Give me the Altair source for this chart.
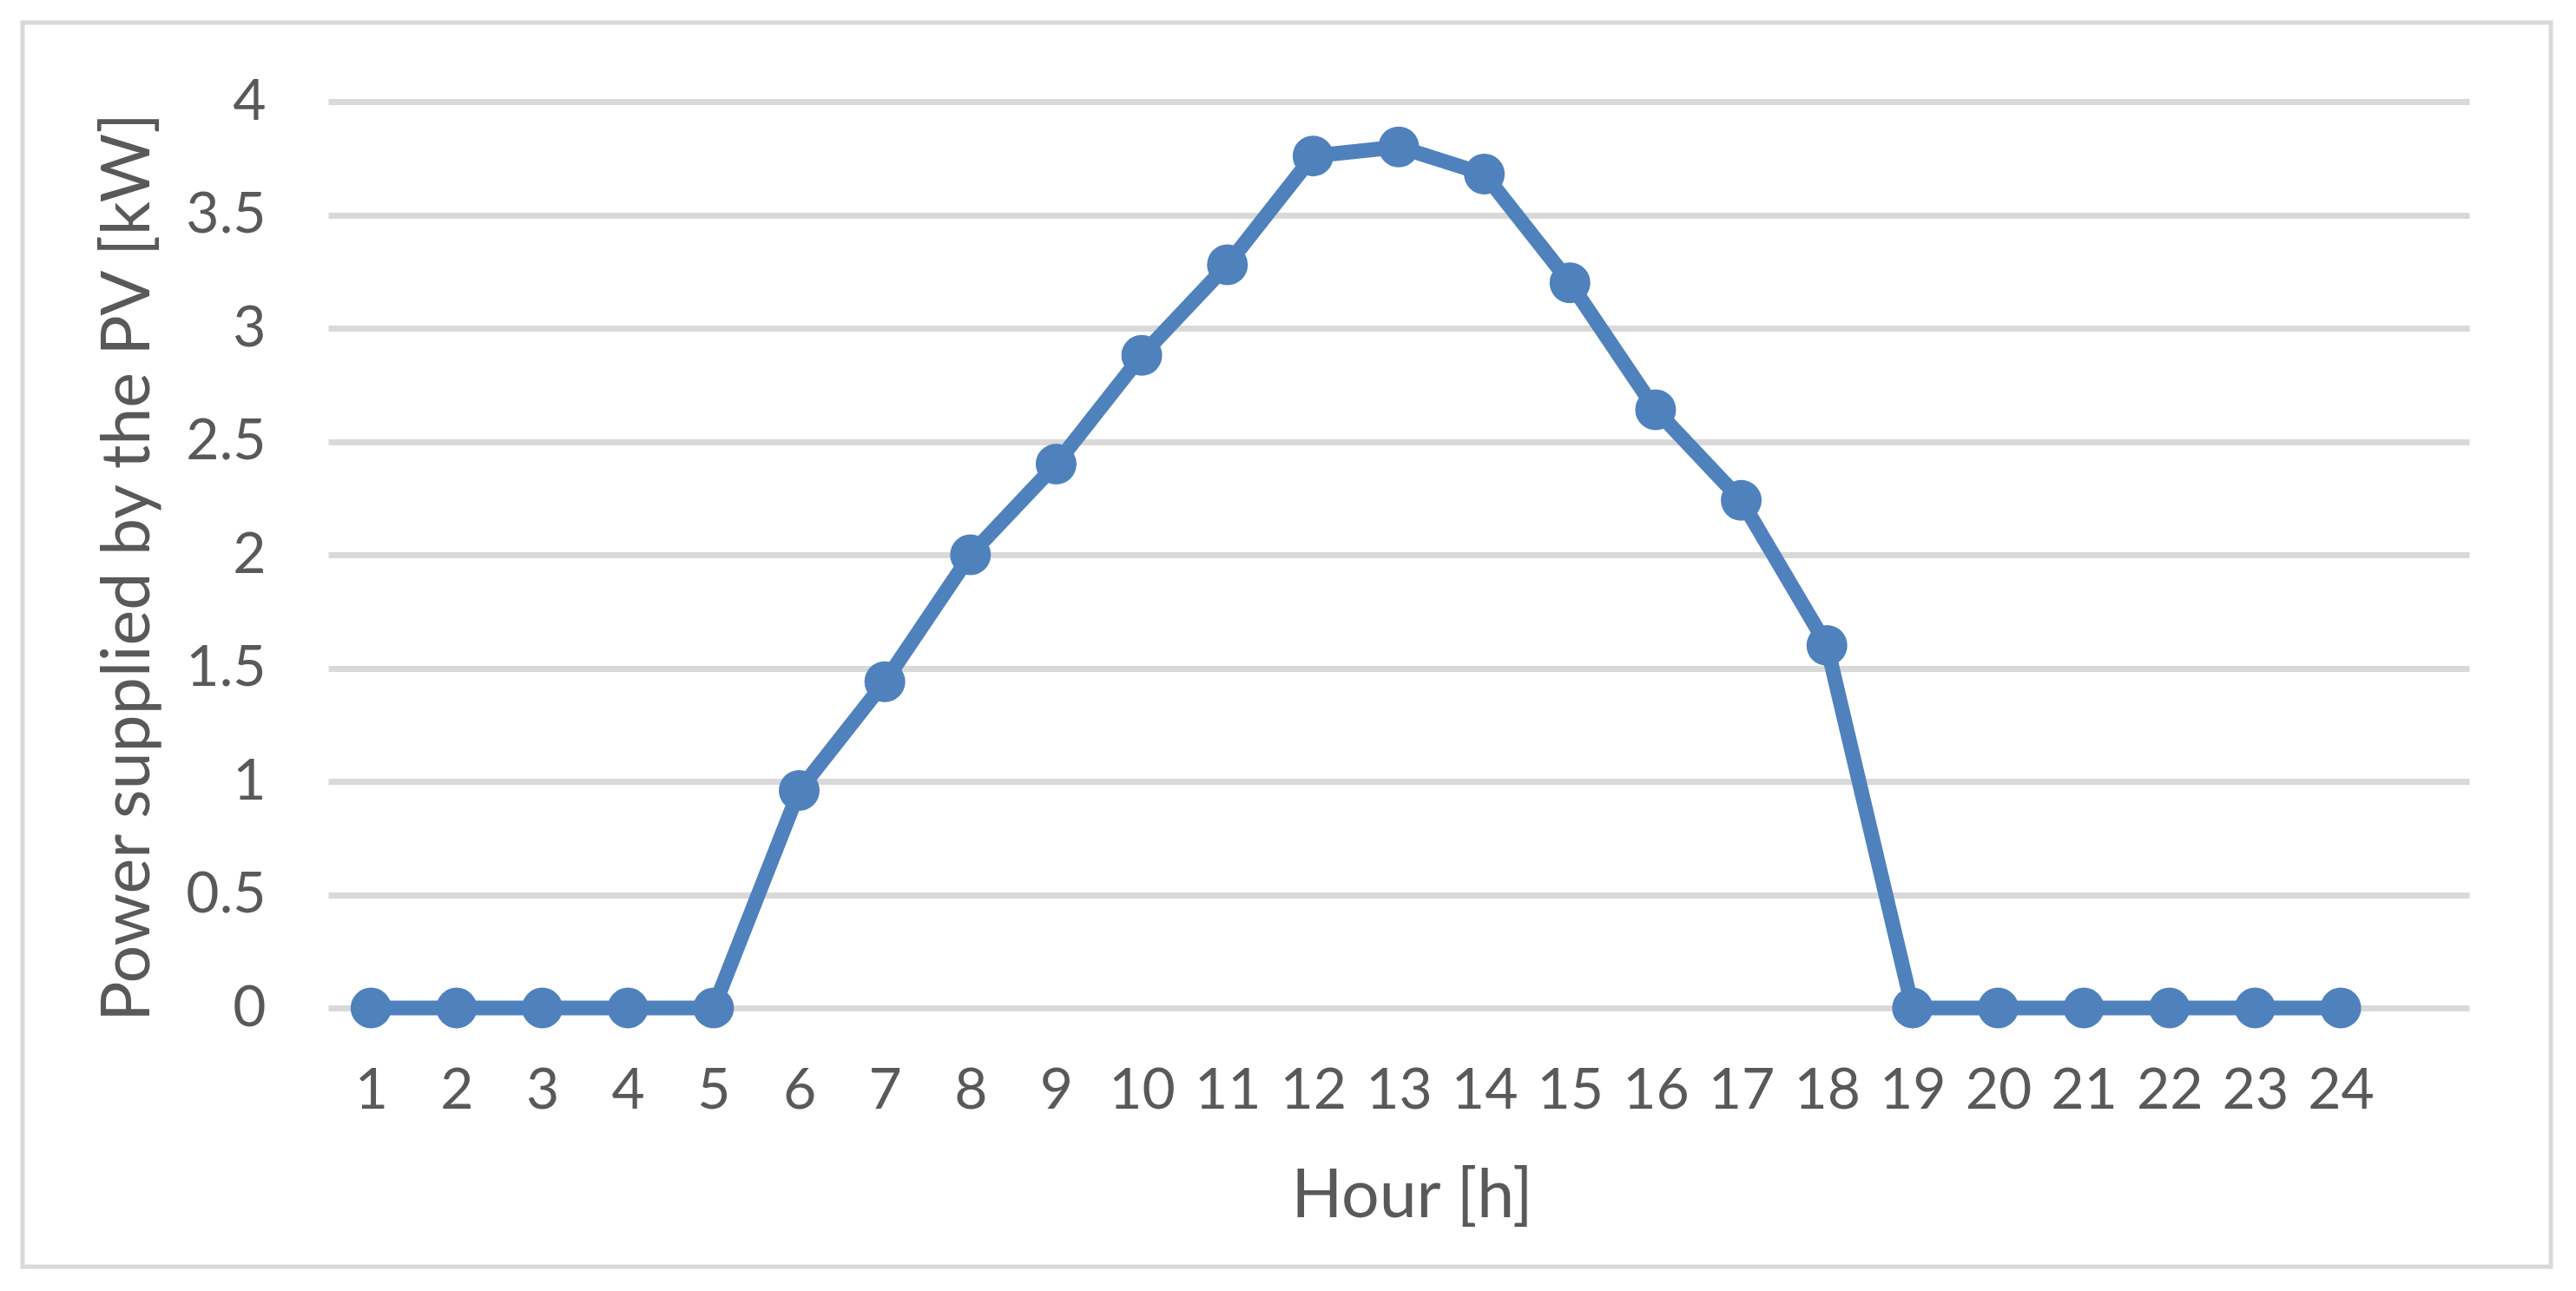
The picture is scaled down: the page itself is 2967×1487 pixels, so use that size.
import altair as alt
import pandas as pd

hours = list(range(1, 25))
power = [0, 0, 0, 0, 0, 0.96, 1.44, 2.00, 2.40, 2.88, 3.28, 3.76, 3.80, 3.68,
         3.20, 2.64, 2.24, 1.60, 0, 0, 0, 0, 0, 0]
y_ticks = [0, 0.5, 1, 1.5, 2, 2.5, 3, 3.5, 4]

df = pd.DataFrame({"Hour": hours, "Power": power})

FONT = "Lato"
TXT = "#595959"
GRID = "#d9d9d9"
BLUE = "#4f81bd"

W, H = 2466, 1044

x_enc = alt.X("Hour:Q",
              scale=alt.Scale(domain=[0.5, 25.5], nice=False, zero=False),
              axis=alt.Axis(values=hours, format="d", grid=False, ticks=False, domain=False,
                            labelFlush=False, labelOverlap=False, labelFontSize=66,
                            labelPadding=63, title="Hour [h]", titleFontSize=77,
                            titleFontWeight="normal", titleX=1248, titleY=240,
                            titleBaseline="alphabetic"))
y_enc = alt.Y("Power:Q",
              scale=alt.Scale(domain=[0, 4], nice=False),
              axis=alt.Axis(values=y_ticks, format="~g", grid=True, ticks=False, domain=False,
                            labelFontSize=66, labelPadding=72,
                            title="Power supplied by the PV [kW]", titleFontSize=77,
                            titleFontWeight="normal", titleX=-207, titleY=536,
                            titleBaseline="alphabetic"))

border = alt.Chart(pd.DataFrame({"k": [0]})).mark_rect(
    fillOpacity=0, stroke=GRID, strokeWidth=5
).encode(x=alt.value(-352), x2=alt.value(2560), y=alt.value(-91), y2=alt.value(1342))

line = alt.Chart(df).mark_line(color=BLUE, strokeWidth=17).encode(x=x_enc, y=y_enc)
pts = alt.Chart(df).mark_circle(color=BLUE, size=2209, opacity=1).encode(x="Hour:Q", y="Power:Q")

chart = alt.layer(border, line, pts).properties(
    width=W, height=H,
    autosize=alt.AutoSizeParams(type="none"),
    padding={"left": 370, "top": 109, "right": 110, "bottom": 310},
    background="white",
).configure_view(stroke=None).configure_axis(
    labelFont=FONT, titleFont=FONT, labelColor=TXT, titleColor=TXT,
    gridColor=GRID, gridWidth=7, gridOpacity=1
)

chart.save("out.html", embed_options={"renderer": "svg", "actions": False})
